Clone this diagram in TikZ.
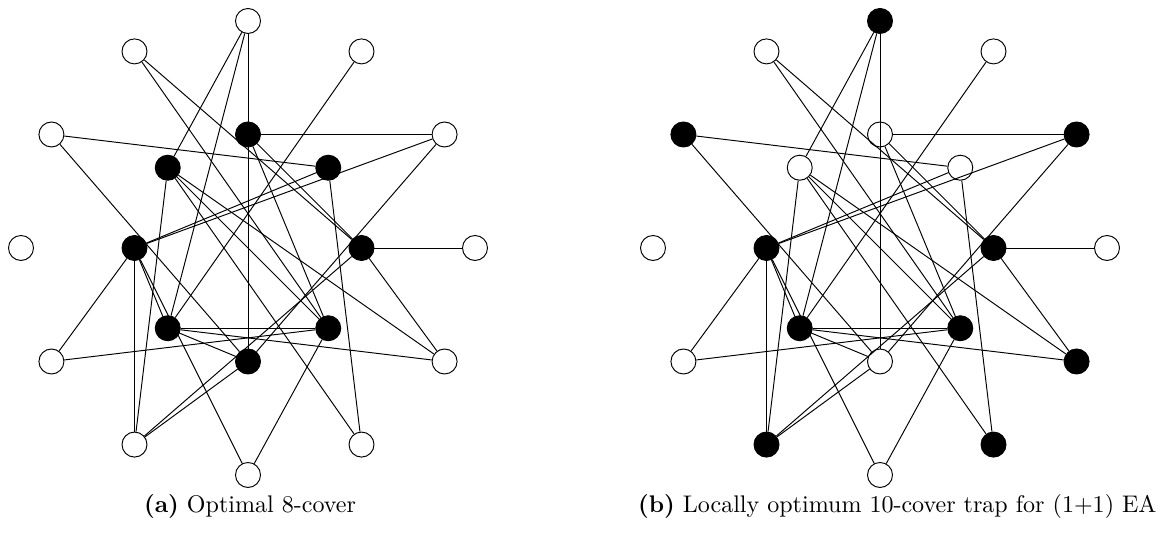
\documentclass[tikz,border=0pt]{standalone}
\usepackage{amsmath}
\usetikzlibrary{arrows, arrows.meta}

\begin{document}
\begin{tikzpicture}[x=0.416pt,y=0.416pt,
    vtx/.style={circle,draw,fill=white,inner sep=0pt,minimum size=10.4pt},
    cov/.style={vtx,fill=black}]
\useasboundingbox (0,0) rectangle (1165,536);
%\draw[step=50,gray,very thin] (0,0) grid (1165,536); %background grid

% (a) optimal cover: the inner ring
\begin{scope}[shift={(248,288)}]
\foreach \a in {0,30,...,330}
  \node[vtx] (a-o\a) at (\a:227) {};
\foreach \a in {0,45,...,315}
  \node[cov] (a-i\a) at (\a:113.5) {};
\end{scope}

% (b) trap
\begin{scope}[shift={(880,288)}]
\foreach \a/\s in {0/vtx,30/cov,60/vtx,90/cov,120/vtx,150/cov,
                   180/vtx,210/vtx,240/cov,270/vtx,300/cov,330/cov}
  \node[\s] (b-o\a) at (\a:227) {};
\foreach \a/\s in {0/cov,45/vtx,90/vtx,135/vtx,180/cov,225/cov,270/vtx,315/cov}
  \node[\s] (b-i\a) at (\a:113.5) {};
\end{scope}

% same edges in both
\foreach \g in {a,b}
  \foreach \u/\v in {o90/i135, o90/i225, o90/i270, i90/o30, i90/i315, i90/i0,
                     o150/i45, o150/i270, o120/i0, o120/i315, i180/i45, i180/o30,
                     i135/o240, i135/o330, i135/o300, i135/i315, i180/o240, i180/o210,
                     i180/i225, i180/o270, i225/i315, i225/o330, i225/i270, i225/o60,
                     o210/i315, o240/i270, o240/i0, o30/i270, i0/o0, i0/o330,
                     i315/o270, i45/o300}
    \draw (\g-\u) -- (\g-\v);

\node (capa) at (250,30) {\textbf{(a)} Optimal 8-cover};
\node[anchor=east] (capb) at (1165,30) {\textbf{(b)} Locally optimum 10-cover trap for (1+1) EA};
\end{tikzpicture}
\end{document}
